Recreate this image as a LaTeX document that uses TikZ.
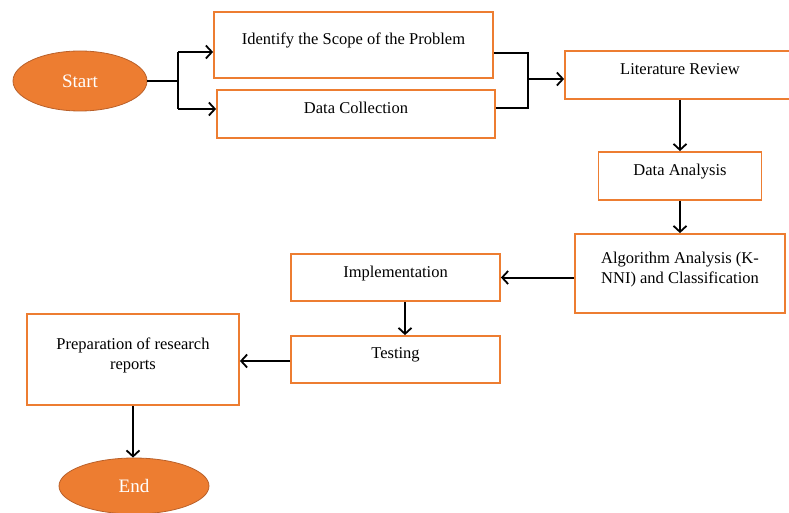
\documentclass[tikz,border=0pt]{standalone}
\usepackage{fontspec}
\setmainfont{Liberation Serif}
\usetikzlibrary{positioning, shapes.geometric, arrows.meta}
\definecolor{wordorange}{HTML}{ED7D31}
\definecolor{darkorange}{HTML}{B9602A}
\tikzset{
box/.style={draw=wordorange, line width=1.8pt, fill=white, align=center, inner sep=2pt,
  text depth=12pt, font=\fontsize{16.5}{20}\selectfont},
terminal/.style={ellipse, draw=darkorange, line width=0.8pt, fill=wordorange, text=white,
  inner sep=0pt, font=\fontsize{19}{22}\selectfont},
arr/.style={line width=2pt, -{Straight Barb[length=6pt, width=13pt, line width=1.8pt]}},
link/.style={line width=2pt},
}
\begin{document}
\begin{tikzpicture}[x=1pt, y=-1pt]
    \useasboundingbox (0,0) rectangle (789,513);

    %terminals
    \node[terminal, minimum width=134pt, minimum height=60pt] (start) at (80,81) {Start};
    \node[terminal, minimum width=150pt, minimum height=56pt] (stop) at (134,486) {End};

    %first column of boxes
    \node[box, minimum width=279pt, minimum height=66pt] (scope) at (353.5,45) {Identify the Scope of the Problem};
    \node[box, minimum width=278pt, minimum height=48pt] (collect) at (356,114) {Data Collection};

    %right column of boxes
    \node[box, minimum width=230pt, minimum height=48pt] (review) at (680,75) {Literature Review};
    \node[box, minimum width=163pt, minimum height=48pt] (analysis) at (680,176) {Data Analysis};
    \node[box, minimum width=210pt, minimum height=79pt] (algo) at (680,273.5) {Algorithm Analysis (K-\\NNI) and Classification};

    %lower boxes
    \node[box, minimum width=209pt, minimum height=47pt] (impl) at (395.5,277.5) {Implementation};
    \node[box, minimum width=209pt, minimum height=47pt] (test) at (395.5,359.5) {Testing};
    \node[box, minimum width=212pt, minimum height=91pt] (report) at (133,359.5) {Preparation of research\\reports};

    %split after start
    \coordinate (split) at (178,81);
    \coordinate (split1) at (178,52);
    \coordinate (split2) at (178,109);
    \draw[link] (start.east)--(split);
    \draw[link] (split1)--(split2);
    \draw[arr] (split1)--(split1 -| scope.west);
    \draw[arr] (split2)--(split2 -| collect.west);

    %merge before review
    \coordinate (merge1) at (528,53);
    \coordinate (merge2) at (528,108);
    \coordinate (merge) at (528,79);
    \draw[link] (merge1 -| scope.east)--(merge1)--(merge2)--(merge2 -| collect.east);
    \draw[arr] (merge)--(merge -| review.west);

    % vertical and horizontal arrows
    \draw[arr] (review.south)--(analysis.north);
    \draw[arr] (analysis.south)--(algo.north);
    \draw[arr] (algo.west |- impl.east)--(impl.east);
    \draw[arr] ([xshift=9.5pt]impl.south)--([xshift=9.5pt]test.north);
    \draw[arr] ([yshift=-1.5pt]test.west)--([yshift=-1.5pt]test.west -| report.east);
    \draw[arr] (report.south)--(stop.north -| report.south);
\end{tikzpicture}
\end{document}
